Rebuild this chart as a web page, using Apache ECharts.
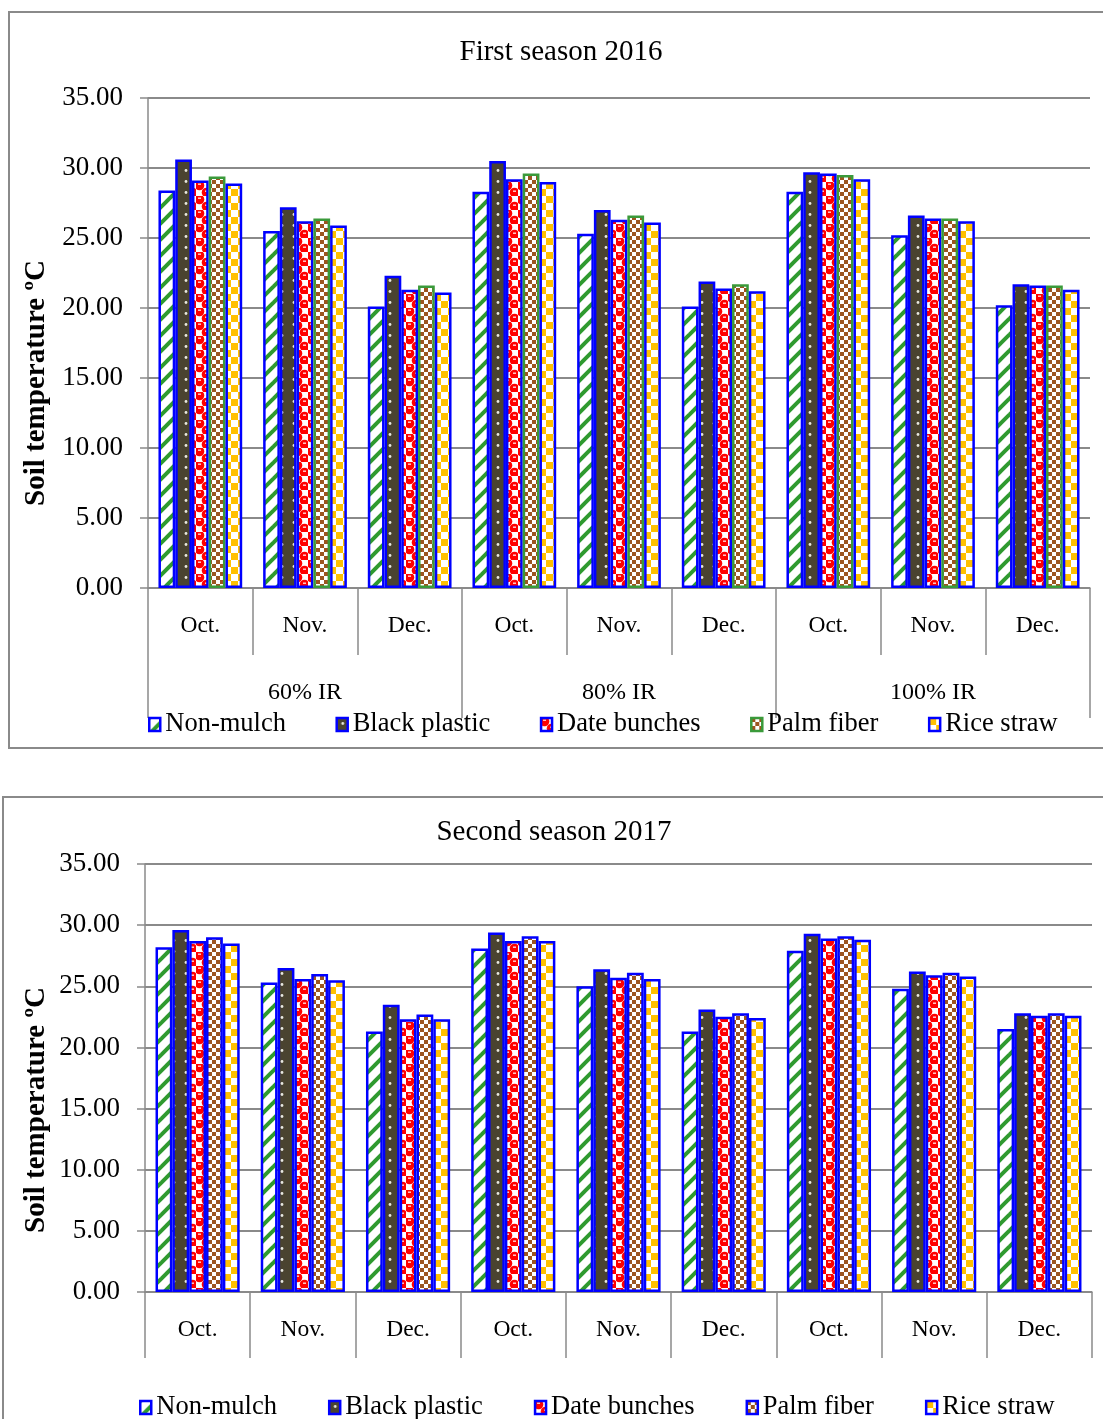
<!DOCTYPE html>
<html lang="en">
<head>
    <meta charset="UTF-8">
    <title>Soil temperature</title>
    <script src="https://cdn.jsdelivr.net/npm/echarts@6/dist/echarts.min.js"></script>
</head>
<style>
    html,body{margin:0;padding:0;background:#fff;}
    #chart{width:1103px;height:1419px;}
</style>
<body>
    <div id="chart"></div>
</body>
</html>

<script>
    // data
    const months = ['Oct.','Nov.','Dec.','Oct.','Nov.','Dec.','Oct.','Nov.','Dec.'];
    const levels = ['60% IR','80% IR','100% IR'];
    const treatments = ['Non-mulch','Black plastic','Date bunches','Palm fiber','Rice straw'];

    const nonMulch2016     = [28.4,25.5,20.1, 28.3,25.3,20.1, 28.3,25.2,20.2];
    const blackPlastic2016 = [30.6,27.2,22.3, 30.5,27.0,21.9, 29.7,26.6,21.7];
    const dateBunches2016  = [29.1,26.2,21.3, 29.2,26.3,21.4, 29.6,26.4,21.6];
    const palmFiber2016    = [29.4,26.4,21.6, 29.6,26.6,21.7, 29.5,26.4,21.6];
    const riceStraw2016    = [28.9,25.9,21.1, 29.0,26.1,21.2, 29.2,26.2,21.3];

    const nonMulch2017     = [28.2,25.3,21.3, 28.1,25.0,21.3, 27.9,24.8,21.5];
    const blackPlastic2017 = [29.6,26.5,23.5, 29.4,26.4,23.1, 29.3,26.2,22.8];
    const dateBunches2017  = [28.7,25.6,22.3, 28.7,25.7,22.5, 28.9,25.9,22.6];
    const palmFiber2017    = [29.0,26.0,22.7, 29.1,26.1,22.8, 29.1,26.1,22.8];
    const riceStraw2017    = [28.5,25.5,22.3, 28.7,25.6,22.4, 28.8,25.8,22.6];

    const FONT = '"Liberation Serif", "Times New Roman", serif';
    const BLUE = '#0000ff';
    const GRID = '#8a8a8a';

    // pattern tiles
    function tile(w, h, draw){
        let c = document.createElement('canvas');
        c.width = w; c.height = h;
        draw(c.getContext('2d'), w, h);
        return {image: c, repeat: 'repeat'};
    }
    const stripes = tile(16, 16, function(g){
        g.fillStyle = '#fff'; g.fillRect(0,0,16,16);
        g.strokeStyle = '#2f9a2f'; g.lineWidth = 4;
        [[-16,16,16,-16],[0,16,16,0],[0,32,32,0]].forEach(function(l){
            g.beginPath(); g.moveTo(l[0],l[1]); g.lineTo(l[2],l[3]); g.stroke();
        });
    });
    const dots = tile(12, 11, function(g){
        g.fillStyle = '#4a4330'; g.fillRect(0,0,12,11);
        g.fillStyle = '#e8e8e0';
        g.beginPath(); g.arc(6,5.5,1.4,0,Math.PI*2); g.fill();
    });
    const balls = tile(14, 14, function(g){
        g.fillStyle = '#fff'; g.fillRect(0,0,14,14);
        g.fillStyle = '#ff0000';
        [[3.5,3.5],[10.5,10.5]].forEach(function(p){
            g.beginPath(); g.arc(p[0],p[1],4.8,0,Math.PI*2); g.fill();
        });
        g.fillRect(0,0,2,2); g.fillRect(12,12,2,2);
        g.fillStyle = '#ffd6d6';
        g.fillRect(2,1.5,3,1.4); g.fillRect(9,8.5,3,1.4);
    });
    const checks = tile(8, 8, function(g){
        g.fillStyle = '#fff'; g.fillRect(0,0,8,8);
        g.fillStyle = '#9c5520';
        g.fillRect(0,0,4,4); g.fillRect(4,4,4,4);
    });
    const bigChecks = tile(14, 14, function(g){
        g.fillStyle = '#fff'; g.fillRect(0,0,14,14);
        g.fillStyle = '#ffc000';
        g.fillRect(0,0,7,7); g.fillRect(7,7,7,7);
    });

    const fills = [stripes, dots, balls, checks, bigChecks];
    const borders2016 = [BLUE, BLUE, BLUE, '#3a9a3a', BLUE];
    const borders2017 = [BLUE, BLUE, BLUE, BLUE, BLUE];
    const values2016 = [nonMulch2016, blackPlastic2016, dateBunches2016, palmFiber2016, riceStraw2016];
    const values2017 = [nonMulch2017, blackPlastic2017, dateBunches2017, palmFiber2017, riceStraw2017];

    function barSeries(values, idx, borders){
        return treatments.map(function(name, i){
            return {
                name: name,
                type: 'bar',
                xAxisIndex: idx === 0 ? 0 : 2,
                yAxisIndex: idx,
                barGap: '0%',
                barCategoryGap: '20%',
                itemStyle: {color: fills[i], borderColor: borders[i], borderWidth: 2.5},
                emphasis: {disabled: true},
                data: values[i]
            };
        });
    }

    function yAxis(gridIndex){
        return {
            type: 'value', gridIndex: gridIndex,
            min: 0, max: 35, interval: 5,
            axisLine: {show: true, lineStyle: {color: GRID, width: 1.5}},
            axisTick: {show: true, length: 8, lineStyle: {color: GRID, width: 1.5}},
            axisLabel: {margin: 25, fontFamily: FONT, fontSize: 27, color: '#000',
                formatter: function(v){ return v.toFixed(2); }},
            splitLine: {show: true, lineStyle: {color: GRID, width: 1.8}}
        };
    }

    function monthAxis(gridIndex, tickLen){
        return {
            type: 'category', gridIndex: gridIndex, data: months,
            axisLine: {show: true, lineStyle: {color: GRID, width: 1.5}},
            axisTick: {show: true, interval: 0, length: tickLen, lineStyle: {color: GRID, width: 1.5}},
            axisLabel: {margin: 26, fontFamily: FONT, fontSize: 23.5, color: '#000'}
        };
    }

    function legend(top, left, gap, borders){
        return {
            top: top, left: left,
            icon: 'rect',
            itemGap: gap, itemWidth: 11, itemHeight: 13,
            selectedMode: false,
            textStyle: {fontFamily: FONT, fontSize: 26.5, color: '#000'},
            data: treatments.map(function(n, i){
                return {name: n, itemStyle: {borderColor: borders[i], borderWidth: 2.5}};
            })
        };
    }

    let chart = echarts.init(document.getElementById('chart'));
    chart.setOption({
        animation: false,
        grid: [
            {left: 148, right: 13, top: 98, height: 490},
            {left: 145, right: 11, top: 864, height: 428}
        ],
        xAxis: [
            monthAxis(0, 67),
            {
                type: 'category', gridIndex: 0, position: 'bottom', data: levels,
                axisLine: {show: false},
                axisTick: {show: true, interval: 0, length: 130, lineStyle: {color: GRID, width: 1.5}},
                axisLabel: {margin: 93, fontFamily: FONT, fontSize: 24, color: '#000'}
            },
            monthAxis(1, 66)
        ],
        yAxis: [yAxis(0), yAxis(1)],
        legend: [legend(706, 143, 49.5, borders2016), legend(1389, 134, 51, borders2017)],
        graphic: [
            {type: 'rect', shape: {x: 9, y: 12, width: 1110, height: 736}, silent: true,
                style: {fill: 'none', stroke: GRID, lineWidth: 2}},
            {type: 'rect', shape: {x: 3, y: 797, width: 1120, height: 660}, silent: true,
                style: {fill: 'none', stroke: GRID, lineWidth: 2}},
            {type: 'text', x: 561, y: 52, silent: true,
                style: {text: 'First season 2016', font: '29px ' + FONT, fill: '#000',
                    textAlign: 'center', textVerticalAlign: 'middle'}},
            {type: 'text', x: 554, y: 832, silent: true,
                style: {text: 'Second season 2017', font: '29px ' + FONT, fill: '#000',
                    textAlign: 'center', textVerticalAlign: 'middle'}},
            {type: 'text', x: 37, y: 383, rotation: Math.PI / 2, silent: true,
                style: {text: 'Soil temperature ºC', font: 'bold 29px ' + FONT, fill: '#000',
                    textAlign: 'center', textVerticalAlign: 'middle'}},
            {type: 'text', x: 37, y: 1110, rotation: Math.PI / 2, silent: true,
                style: {text: 'Soil temperature ºC', font: 'bold 29px ' + FONT, fill: '#000',
                    textAlign: 'center', textVerticalAlign: 'middle'}}
        ],
        series: barSeries(values2016, 0, borders2016).concat(barSeries(values2017, 1, borders2017))
    });
</script>
